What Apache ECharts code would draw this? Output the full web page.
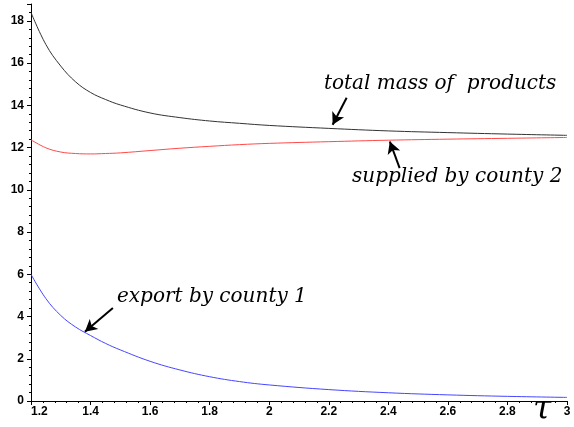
<!DOCTYPE html>
<html>
<head>
<meta charset="utf-8">
<script src="https://cdn.jsdelivr.net/npm/echarts@6/dist/echarts.min.js"></script>
<style>html,body{margin:0;padding:0;background:#fff;}#c{width:574px;height:427px;}</style>
</head>
<body>
<div id="c"></div>
<script>
const tau      = [1.2, 1.25, 1.3, 1.35, 1.4, 1.45, 1.5, 1.6, 1.7, 1.8, 1.9, 2.0, 2.2, 2.4, 2.6, 2.8, 3.0];
const total    = [18.4, 16.88, 15.86, 15.11, 14.61, 14.28, 14.02, 13.64, 13.42, 13.26, 13.15, 13.05, 12.91, 12.79, 12.71, 12.64, 12.58];
const supplied = [12.37, 11.99, 11.79, 11.72, 11.7, 11.72, 11.75, 11.86, 11.97, 12.06, 12.14, 12.2, 12.28, 12.35, 12.4, 12.44, 12.48];
const exported = [6.0, 4.85, 4.05, 3.5, 3.1, 2.73, 2.42, 1.88, 1.47, 1.15, 0.92, 0.76, 0.54, 0.39, 0.29, 0.22, 0.17];
const xTicks = [1.2, 1.4, 1.6, 1.8, 2, 2.2, 2.4, 2.6, 2.8, 3];
const yTicks = [0, 2, 4, 6, 8, 10, 12, 14, 16, 18];

const pairs = arr => tau.map((t, i) => [t, arr[i]]);
const arrowLine = (from, to) => [{coord: from}, {coord: to}];

const chart = echarts.init(document.getElementById('c'));
const labelFont = {fontFamily: 'Liberation Sans', fontWeight: 'bold', fontSize: 12, color: '#000'};
const arrowStyle = {silent: true, symbol: ['none', 'arrow'], symbolSize: [10, 12], label: {show: false},
  lineStyle: {color: '#000', width: 2, type: 'solid'}};
chart.setOption({
  animation: false,
  backgroundColor: '#fff',
  grid: {left: 31, right: 7, top: 4, bottom: 26},
  xAxis: {
    type: 'value', min: 1.2, max: 3, interval: 0.2,
    axisLine: {lineStyle: {color: '#000', width: 1}},
    axisTick: {inside: false, length: 4, lineStyle: {color: '#000'}},
    minorTick: {show: true, splitNumber: 5, length: 2, lineStyle: {color: '#000'}},
    splitLine: {show: false},
    axisLabel: Object.assign({margin: 5, alignMinLabel: 'left',
      formatter: v => xTicks.some(t => Math.abs(t - v) < 1e-6) ? String(+v.toFixed(1)) : ''}, labelFont)
  },
  yAxis: {
    type: 'value', min: 0, max: 18.8, interval: 2,
    axisLine: {show: true, lineStyle: {color: '#000', width: 1}},
    axisTick: {show: true, inside: false, length: 4, lineStyle: {color: '#000'}},
    minorTick: {show: true, splitNumber: 5, length: 2, lineStyle: {color: '#000'}},
    splitLine: {show: false},
    axisLabel: Object.assign({margin: 7, showMaxLabel: false,
      formatter: v => yTicks.includes(v) ? String(v) : ''}, labelFont)
  },
  series: [
    {type: 'line', data: pairs(total), smooth: 0.4, symbol: 'none', lineStyle: {color: '#333', width: 1},
      markLine: Object.assign({data: [arrowLine([2.26, 14.36], [2.213, 13.08])]}, arrowStyle)},
    {type: 'line', data: pairs(supplied), smooth: 0.4, symbol: 'none', lineStyle: {color: '#ff4a4a', width: 1},
      markLine: Object.assign({data: [arrowLine([2.438, 11.03], [2.405, 12.29])]}, arrowStyle)},
    {type: 'line', data: pairs(exported), smooth: 0.4, symbol: 'none', lineStyle: {color: '#4646ff', width: 1},
      markLine: Object.assign({data: [arrowLine([1.475, 4.4], [1.381, 3.28])]}, arrowStyle)}
  ],
  graphic: [
    {type: 'text', left: 324, top: 74, style: {text: 'total mass of  products', font: 'italic 20px "DejaVu Serif"', fill: '#000'}},
    {type: 'text', left: 352, top: 167, style: {text: 'supplied by county 2', font: 'italic 20px "DejaVu Serif"', fill: '#000'}},
    {type: 'text', left: 117, top: 287, style: {text: 'export by county 1', font: 'italic 20px "DejaVu Serif"', fill: '#000'}},
    {type: 'text', left: 533, top: 394, style: {text: 'τ', font: 'italic 33px "DejaVu Serif"', fill: '#000'}}
  ]
});
</script>
</body>
</html>
